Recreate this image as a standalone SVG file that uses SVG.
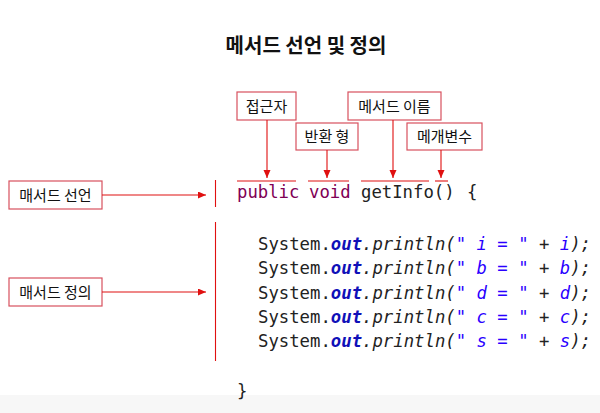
<svg xmlns="http://www.w3.org/2000/svg" width="600" height="413" viewBox="0 0 600 413">
<defs>
<style>
.kr{font-family:"Noto Sans CJK KR","Noto Sans",sans-serif;fill:#111}
.lbl{font-size:15px;text-anchor:middle}
.box{fill:#fff;stroke:#d8505e;stroke-width:1.2}
.conn{stroke:#e01010;stroke-width:1.1;fill:none}
.code{font-family:"DejaVu Sans Mono","Liberation Mono",monospace;font-size:17.3px;fill:#222;white-space:pre}
.kw{fill:#7f0055}
.fld{fill:#1010b8;font-weight:bold;font-style:italic}
.it{font-style:italic}
.str{fill:#2a00ff;font-style:italic}
</style>
<marker id="ah" markerUnits="userSpaceOnUse" markerWidth="9" markerHeight="8" refX="8" refY="3.5" orient="auto">
<path d="M0,0 L8,3.5 L0,7 z" fill="#e01010"/>
</marker>
</defs>
<rect width="600" height="413" fill="#fff"/>
<rect x="0" y="395" width="600" height="18" fill="#f7f7f7"/>

<g id="title">
<text class="kr" x="306" y="53" font-size="20" font-weight="bold" text-anchor="middle">메서드 선언 및 정의</text>
</g>

<g id="code">
<text class="code" x="237" y="198"><tspan class="kw">public</tspan></text>
<text class="code" x="309" y="198"><tspan class="kw">void</tspan></text>
<text class="code" x="361" y="198">getInfo()</text>
<text class="code" x="467" y="198">{</text>
<text class="code" x="258" y="250">System.<tspan class="fld">out</tspan><tspan class="it">.println(</tspan><tspan class="str">" i = "</tspan><tspan class="it"> + </tspan><tspan class="str">i</tspan><tspan class="it">);</tspan></text>
<text class="code" x="258" y="274.3">System.<tspan class="fld">out</tspan><tspan class="it">.println(</tspan><tspan class="str">" b = "</tspan><tspan class="it"> + </tspan><tspan class="str">b</tspan><tspan class="it">);</tspan></text>
<text class="code" x="258" y="298.6">System.<tspan class="fld">out</tspan><tspan class="it">.println(</tspan><tspan class="str">" d = "</tspan><tspan class="it"> + </tspan><tspan class="str">d</tspan><tspan class="it">);</tspan></text>
<text class="code" x="258" y="322.9">System.<tspan class="fld">out</tspan><tspan class="it">.println(</tspan><tspan class="str">" c = "</tspan><tspan class="it"> + </tspan><tspan class="str">c</tspan><tspan class="it">);</tspan></text>
<text class="code" x="258" y="347.2">System.<tspan class="fld">out</tspan><tspan class="it">.println(</tspan><tspan class="str">" s = "</tspan><tspan class="it"> + </tspan><tspan class="str">s</tspan><tspan class="it">);</tspan></text>
<text class="code" x="237" y="397">}</text>
</g>

<g id="node-access">
<rect class="box" x="237" y="92" width="59" height="28"/>
<text class="kr lbl" x="266.5" y="111.5">접근자</text>
</g>
<g id="node-return">
<rect class="box" x="296" y="123" width="62" height="27"/>
<text class="kr lbl" x="327" y="142">반환 형</text>
</g>
<g id="node-name">
<rect class="box" x="348" y="92" width="93" height="28"/>
<text class="kr lbl" x="394.5" y="111.5">메서드 이름</text>
</g>
<g id="node-param">
<rect class="box" x="407" y="123" width="75" height="27"/>
<text class="kr lbl" x="444.5" y="142">메개변수</text>
</g>
<g id="node-decl">
<rect class="box" x="9" y="181" width="93" height="28"/>
<text class="kr lbl" x="55.5" y="200.5">매서드 선언</text>
</g>
<g id="node-def">
<rect class="box" x="9" y="278" width="93" height="28"/>
<text class="kr lbl" x="55.5" y="297.5">매서드 정의</text>
</g>

<g id="connectors">
<line class="conn" x1="267" y1="120" x2="267" y2="178" marker-end="url(#ah)"/>
<line class="conn" x1="327" y1="150" x2="327" y2="178" marker-end="url(#ah)"/>
<line class="conn" x1="393" y1="120" x2="393" y2="178" marker-end="url(#ah)"/>
<line class="conn" x1="441" y1="150" x2="441" y2="178" marker-end="url(#ah)"/>
<line class="conn" x1="237" y1="181" x2="296" y2="181"/>
<line class="conn" x1="308" y1="181" x2="349" y2="181"/>
<line class="conn" x1="361" y1="181" x2="429" y2="181"/>
<line class="conn" x1="435" y1="181" x2="448" y2="181"/>
<line class="conn" x1="102" y1="195" x2="206" y2="195" marker-end="url(#ah)"/>
<line class="conn" x1="102" y1="292" x2="206" y2="292" marker-end="url(#ah)"/>
<line class="conn" x1="215.5" y1="180" x2="215.5" y2="207"/>
<line class="conn" x1="215.5" y1="222" x2="215.5" y2="361"/>
</g>
</svg>
